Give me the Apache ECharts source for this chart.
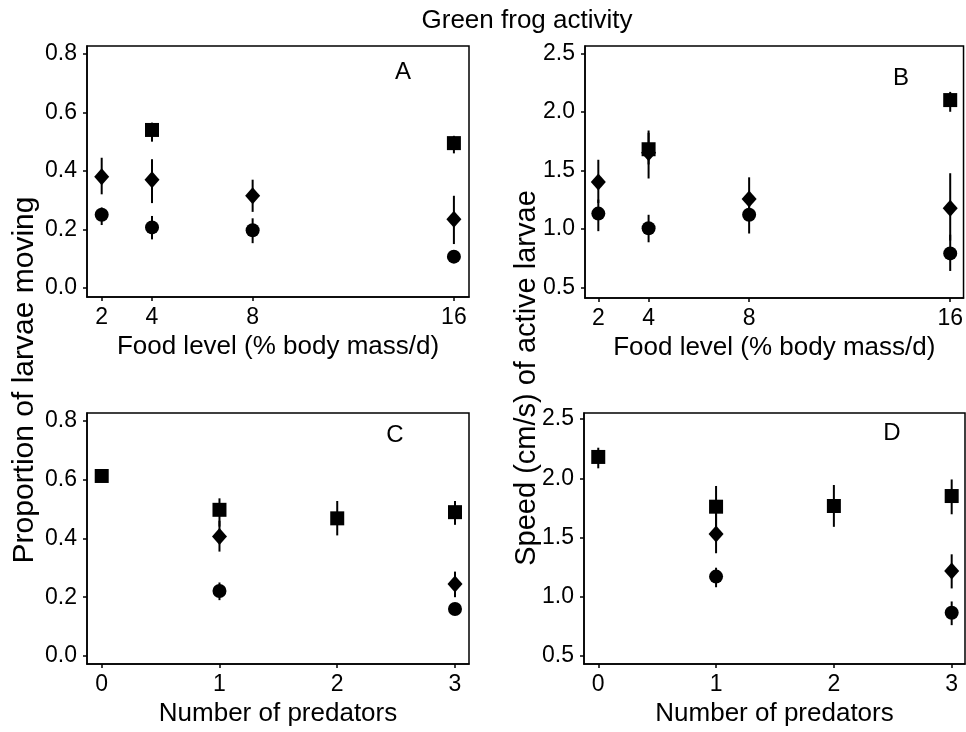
<!DOCTYPE html>
<html>
<head>
<meta charset="utf-8">
<script src="https://cdn.jsdelivr.net/npm/echarts@6/dist/echarts.min.js"></script>
<style>
html,body{margin:0;padding:0;background:#fff;}
#chart{width:966px;height:732px;}
</style>
</head>
<body>
<div id="chart"></div>
<script>
// ---------- data ----------
const foodTicks = [2, 4, 8, 16];
const predTicks = [0, 1, 2, 3];
const propTicks = [0, 0.2, 0.4, 0.6, 0.8];
const speedTicks = [0.5, 1.0, 1.5, 2.0, 2.5];

// Panel A: proportion moving vs food level
const aSquareX = [4, 16];
const aSquareY = [0.54, 0.495];
const aSquareLo = [0.50, 0.46];
const aSquareHi = [0.565, 0.52];
const aDiamondX = [2, 4, 8, 16];
const aDiamondY = [0.38, 0.37, 0.315, 0.235];
const aDiamondLo = [0.32, 0.29, 0.26, 0.15];
const aDiamondHi = [0.445, 0.44, 0.37, 0.315];
const aCircleX = [2, 4, 8, 16];
const aCircleY = [0.25, 0.207, 0.197, 0.107];
const aCircleLo = [0.215, 0.166, 0.153, 0.107];
const aCircleHi = [0.275, 0.246, 0.238, 0.107];

// Panel B: speed vs food level
const bSquareX = [4, 16];
const bSquareY = [1.68, 2.10];
const bSquareLo = [1.55, 2.00];
const bSquareHi = [1.84, 2.17];
const bDiamondX = [2, 4, 8, 16];
const bDiamondY = [1.40, 1.65, 1.255, 1.175];
const bDiamondLo = [1.22, 1.43, 1.10, 0.90];
const bDiamondHi = [1.59, 1.82, 1.44, 1.475];
const bCircleX = [2, 4, 8, 16];
const bCircleY = [1.13, 1.005, 1.12, 0.79];
const bCircleLo = [0.98, 0.885, 0.96, 0.64];
const bCircleHi = [1.25, 1.12, 1.25, 0.95];

// Panel C: proportion moving vs number of predators
const cSquareX = [0, 1, 2, 3];
const cSquareY = [0.612, 0.497, 0.468, 0.489];
const cSquareLo = [0.60, 0.44, 0.41, 0.446];
const cSquareHi = [0.62, 0.536, 0.527, 0.527];
const cDiamondX = [1, 3];
const cDiamondY = [0.406, 0.245];
const cDiamondLo = [0.355, 0.20];
const cDiamondHi = [0.46, 0.287];
const cCircleX = [1, 3];
const cCircleY = [0.221, 0.16];
const cCircleLo = [0.19, 0.16];
const cCircleHi = [0.25, 0.16];

// Panel D: speed vs number of predators
const dSquareX = [0, 1, 2, 3];
const dSquareY = [2.18, 1.76, 1.766, 1.85];
const dSquareLo = [2.084, 1.58, 1.59, 1.696];
const dSquareHi = [2.258, 1.935, 1.943, 1.99];
const dDiamondX = [1, 3];
const dDiamondY = [1.53, 1.217];
const dDiamondLo = [1.367, 1.07];
const dDiamondHi = [1.70, 1.358];
const dCircleX = [1, 3];
const dCircleY = [1.17, 0.865];
const dCircleLo = [1.08, 0.76];
const dCircleHi = [1.245, 0.96];

// ---------- chart ----------
const FONT = '"Liberation Sans", Arial, Helvetica, sans-serif';
const chart = echarts.init(document.getElementById('chart'));

const grids = [
  {left: 87, top: 46, width: 382, height: 251},
  {left: 585, top: 46, width: 380, height: 252},
  {left: 87, top: 413, width: 382, height: 251},
  {left: 584, top: 413, width: 381, height: 251}
].map(g => Object.assign({show: true, borderColor: '#000', borderWidth: 1.5, backgroundColor: 'transparent'}, g));

function xAxisDef(idx, min, max, ticks, name) {
  return {
    type: 'value', gridIndex: idx, min: min, max: max,
    name: name, nameLocation: 'middle', nameGap: 37,
    nameTextStyle: {fontFamily: FONT, fontSize: 26, color: '#000'},
    axisLine: {show: true, onZero: false, lineStyle: {color: '#000', width: 1.5}},
    axisTick: {show: true, inside: false, length: 4, customValues: ticks, lineStyle: {color: '#000', width: 1.5}},
    axisLabel: {show: true, customValues: ticks, margin: 9, fontFamily: FONT, fontSize: 23, color: '#000'},
    splitLine: {show: false}
  };
}
function yAxisDef(idx, min, max, ticks) {
  return {
    type: 'value', gridIndex: idx, min: min, max: max,
    axisLine: {show: true, onZero: false, lineStyle: {color: '#000', width: 1.5}},
    axisTick: {show: true, inside: false, length: 4, customValues: ticks, lineStyle: {color: '#000', width: 1.5}},
    axisLabel: {show: true, customValues: ticks, margin: 10, fontFamily: FONT, fontSize: 23, color: '#000',
      formatter: v => v.toFixed(1)},
    splitLine: {show: false}
  };
}

const xAxes = [
  xAxisDef(0, 1.416, 16.6, foodTicks, 'Food level (% body mass/d)'),
  xAxisDef(1, 1.47, 16.53, foodTicks, 'Food level (% body mass/d)'),
  xAxisDef(2, -0.125, 3.119, predTicks, 'Number of predators'),
  xAxisDef(3, -0.121, 3.113, predTicks, 'Number of predators')
];
const yAxes = [
  yAxisDef(0, -0.031, 0.827, propTicks),
  yAxisDef(1, 0.409, 2.562, speedTicks),
  yAxisDef(2, -0.027, 0.826, propTicks),
  yAxisDef(3, 0.432, 2.551, speedTicks)
];

const series = [];
function addGroup(idx, xs, ys, lo, hi, symbol, size) {
  series.push({
    type: 'custom', xAxisIndex: idx, yAxisIndex: idx, silent: true, z: 2,
    data: xs.map((x, i) => [x, lo[i], hi[i]]),
    encode: {x: 0, y: [1, 2]},
    renderItem: function (params, api) {
      const p1 = api.coord([api.value(0), api.value(1)]);
      const p2 = api.coord([api.value(0), api.value(2)]);
      return {type: 'line', shape: {x1: p1[0], y1: p1[1], x2: p2[0], y2: p2[1]},
        style: {stroke: '#000', lineWidth: 2}};
    }
  });
  series.push({
    type: 'scatter', xAxisIndex: idx, yAxisIndex: idx, z: 3, silent: true,
    symbol: symbol, symbolSize: size,
    itemStyle: {color: '#000', opacity: 1},
    data: xs.map((x, i) => [x, ys[i]])
  });
}
const SQ = 14, DI = [15, 17], CI = 14;
addGroup(0, aSquareX, aSquareY, aSquareLo, aSquareHi, 'rect', SQ);
addGroup(0, aDiamondX, aDiamondY, aDiamondLo, aDiamondHi, 'diamond', DI);
addGroup(0, aCircleX, aCircleY, aCircleLo, aCircleHi, 'circle', CI);
addGroup(1, bSquareX, bSquareY, bSquareLo, bSquareHi, 'rect', SQ);
addGroup(1, bDiamondX, bDiamondY, bDiamondLo, bDiamondHi, 'diamond', DI);
addGroup(1, bCircleX, bCircleY, bCircleLo, bCircleHi, 'circle', CI);
addGroup(2, cSquareX, cSquareY, cSquareLo, cSquareHi, 'rect', SQ);
addGroup(2, cDiamondX, cDiamondY, cDiamondLo, cDiamondHi, 'diamond', DI);
addGroup(2, cCircleX, cCircleY, cCircleLo, cCircleHi, 'circle', CI);
addGroup(3, dSquareX, dSquareY, dSquareLo, dSquareHi, 'rect', SQ);
addGroup(3, dDiamondX, dDiamondY, dDiamondLo, dDiamondHi, 'diamond', DI);
addGroup(3, dCircleX, dCircleY, dCircleLo, dCircleHi, 'circle', CI);

function label(text, x, y, size, rot) {
  return {type: 'text', x: x, y: y, rotation: rot || 0, z: 10,
    style: {text: text, fontFamily: FONT, fontSize: size, fill: '#000', textAlign: 'center', textVerticalAlign: 'middle'}};
}

chart.setOption({
  backgroundColor: '#fff',
  animation: false,
  grid: grids,
  xAxis: xAxes,
  yAxis: yAxes,
  series: series,
  graphic: [
    label('Green frog activity', 527, 21, 26),
    label('A', 403, 72, 24),
    label('B', 901, 78, 24),
    label('C', 395, 435, 24),
    label('D', 892, 433, 24),
    label('Proportion of larvae moving', 25, 380, 30, Math.PI / 2),
    label('Speed (cm/s) of active larvae', 527, 378, 29, Math.PI / 2)
  ]
});
</script>
</body>
</html>
